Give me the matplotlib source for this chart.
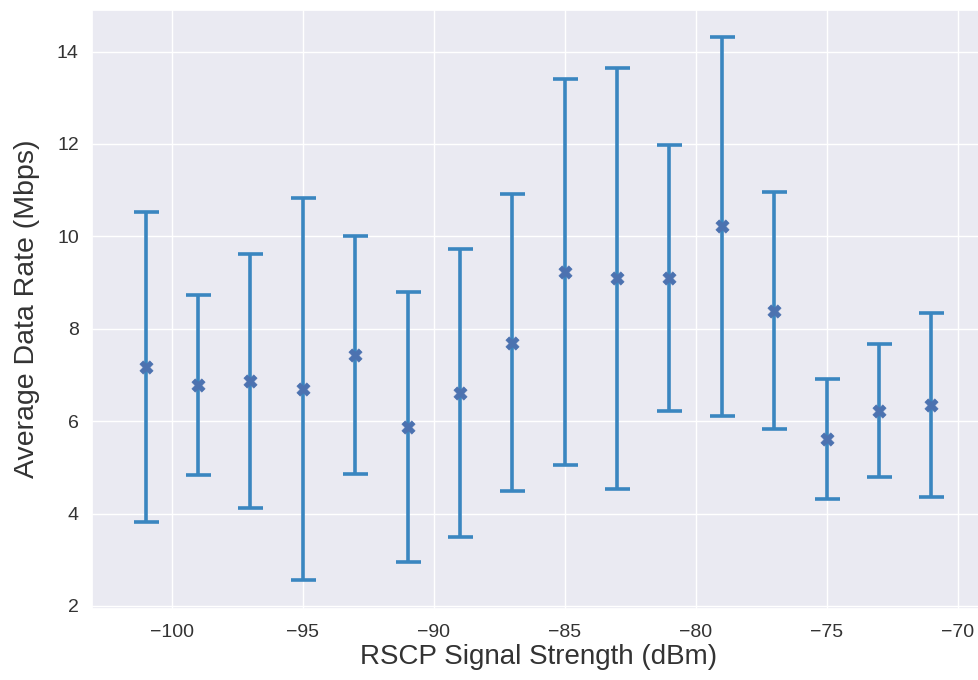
import matplotlib
matplotlib.use("Agg")
import matplotlib.pyplot as plt
import seaborn as sns
import numpy as np

rscp = [-101, -99, -97, -95, -93, -91, -89, -87, -85, -83, -81, -79, -77, -75, -73, -71]
mean_rate = [7.17, 6.79, 6.87, 6.70, 7.43, 5.88, 6.61, 7.70, 9.23, 9.09, 9.10, 10.22, 8.39, 5.62, 6.23, 6.35]
std_rate = [3.36, 1.95, 2.75, 4.14, 2.58, 2.92, 3.12, 3.21, 4.18, 4.56, 2.88, 4.10, 2.56, 1.30, 1.44, 2.00]

sns.set_theme(style="darkgrid")
plt.rcParams['font.family'] = ['Liberation Sans', 'DejaVu Sans']

fig = plt.figure(figsize=(9.79, 6.8), dpi=100)
ax = fig.add_axes([92/979, 1 - 609/680, (985 - 92)/979, (609 - 9.5)/680])

ax.errorbar(rscp, mean_rate, yerr=std_rate, fmt='none', ecolor='#3a86c0',
            elinewidth=2.6, capsize=9, capthick=2.6, zorder=2)
ax.scatter(rscp, mean_rate, marker='X', s=90, color='#4c72b0', edgecolor='#4c72b0',
           linewidth=0.5, zorder=3)

ax.set_xlim(-103.05, -68.95)
ax.set_ylim(1.935, 14.91)
ax.set_yticks([2, 4, 6, 8, 10, 12, 14])
ax.set_xticks([-100, -95, -90, -85, -80, -75, -70])
ax.tick_params(labelsize=14, colors='#333333')
ax.tick_params(axis='x', pad=5)
ax.set_xlabel('RSCP Signal Strength (dBm)', fontsize=20, color='#333333', labelpad=2)
ax.set_ylabel('Average Data Rate (Mbps)', fontsize=20.5, color='#333333', labelpad=12)

fig.savefig('out.png', dpi=100)
